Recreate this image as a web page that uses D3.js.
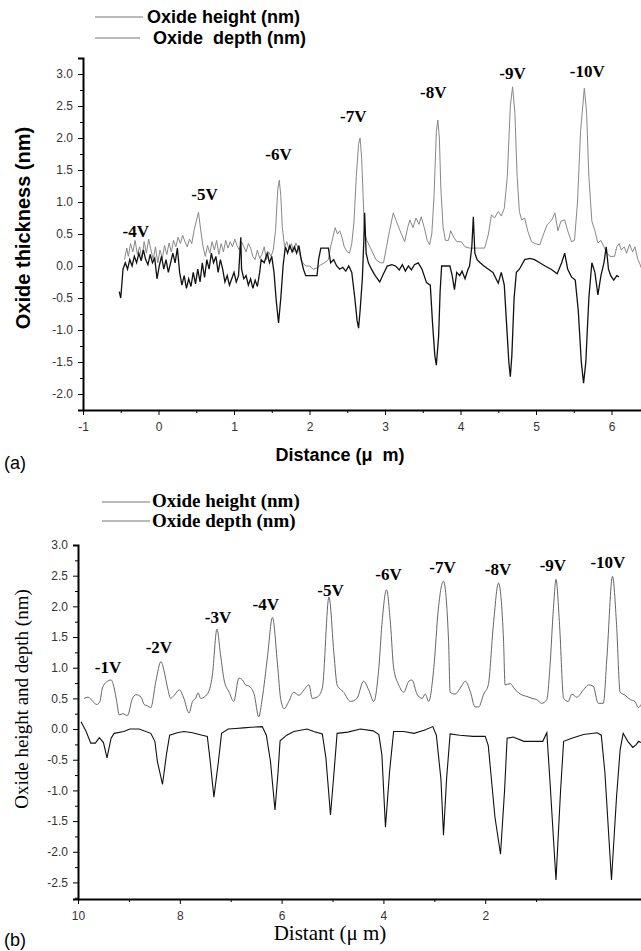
<!DOCTYPE html>
<html>
<head>
<meta charset="utf-8">
<script src="https://cdn.jsdelivr.net/npm/d3@7"></script>
<style>
body { margin: 0; background: #fff; }
svg { display: block; }
</style>
</head>
<body>
<div id="chart"></div>
<script>
// ---- panel (a): oxide thickness vs distance ----
let a_height = [[-0.45,0.10],[-0.42,0.28],[-0.40,0.15],[-0.37,0.35],[-0.34,0.22],[-0.31,0.40],[-0.28,0.18],[-0.25,0.30],[-0.22,0.12],[-0.19,0.38],[-0.16,0.20],[-0.13,0.42],[-0.10,0.25],[-0.07,0.10],[-0.04,0.30],[-0.01,0.05],[0.02,0.25],[0.05,0.12],[0.08,0.32],[0.11,0.18],[0.14,0.36],[0.17,0.22],[0.20,0.40],[0.23,0.30],[0.26,0.45],[0.29,0.35],[0.32,0.48],[0.35,0.38],[0.38,0.30],[0.41,0.42],[0.44,0.35],[0.47,0.55],[0.50,0.70],[0.53,0.84],[0.56,0.55],[0.59,0.30],[0.62,0.15],[0.65,0.32],[0.68,0.20],[0.71,0.38],[0.74,0.25],[0.77,0.40],[0.80,0.18],[0.83,0.35],[0.86,0.22],[0.89,0.40],[0.92,0.28],[0.95,0.38],[0.98,0.30],[1.01,0.42],[1.04,0.32],[1.07,0.25],[1.10,0.38],[1.13,0.30],[1.16,0.22],[1.19,0.35],[1.22,0.28],[1.25,0.15],[1.28,0.10],[1.31,0.25],[1.34,0.12],[1.37,0.18],[1.40,0.30],[1.43,0.10],[1.46,0.22],[1.49,0.15],[1.52,0.25],[1.55,0.55],[1.58,1.20],[1.60,1.34],[1.62,1.10],[1.64,0.60],[1.67,0.30],[1.70,0.38],[1.73,0.25],[1.76,0.35],[1.79,0.22],[1.82,0.36],[1.85,0.28],[1.88,0.15],[1.91,0.05],[1.95,0.00],[2.00,0.00],[2.05,-0.05],[2.10,-0.03],[2.15,0.02],[2.20,0.05],[2.25,0.10],[2.28,0.30],[2.31,0.45],[2.34,0.60],[2.37,0.50],[2.40,0.55],[2.43,0.45],[2.46,0.30],[2.50,0.22],[2.53,0.20],[2.56,0.35],[2.59,0.70],[2.62,1.40],[2.65,1.90],[2.67,2.00],[2.69,1.70],[2.71,1.10],[2.73,0.50],[2.76,0.40],[2.80,0.30],[2.84,0.20],[2.88,0.10],[2.94,0.05],[2.98,0.05],[3.02,0.30],[3.06,0.55],[3.11,0.83],[3.15,0.70],[3.20,0.55],[3.26,0.38],[3.30,0.60],[3.33,0.72],[3.37,0.60],[3.41,0.75],[3.45,0.65],[3.48,0.77],[3.52,0.60],[3.56,0.40],[3.59,0.33],[3.62,0.50],[3.65,1.10],[3.68,2.10],[3.70,2.28],[3.72,2.00],[3.74,1.20],[3.77,0.60],[3.80,0.40],[3.84,0.40],[3.87,0.55],[3.91,0.45],[3.95,0.38],[4.01,0.38],[4.06,0.30],[4.12,0.28],[4.18,0.28],[4.25,0.28],[4.32,0.28],[4.37,0.50],[4.41,0.80],[4.45,0.75],[4.50,0.85],[4.54,0.78],[4.58,0.90],[4.62,1.40],[4.66,2.50],[4.69,2.80],[4.72,2.40],[4.75,1.40],[4.78,0.85],[4.81,0.72],[4.85,0.75],[4.89,0.55],[4.94,0.38],[4.99,0.35],[5.05,0.33],[5.10,0.50],[5.15,0.65],[5.21,0.72],[5.25,0.83],[5.29,0.55],[5.33,0.70],[5.38,0.72],[5.42,0.55],[5.47,0.38],[5.51,0.40],[5.55,1.00],[5.59,2.10],[5.64,2.78],[5.67,2.40],[5.70,1.40],[5.74,0.70],[5.78,0.55],[5.82,0.36],[5.86,0.40],[5.90,0.30],[5.94,0.20],[5.98,0.15],[6.04,0.15],[6.07,0.30],[6.10,0.35],[6.13,0.25],[6.17,0.30],[6.20,0.20],[6.24,0.34],[6.28,0.22],[6.31,0.30],[6.35,0.10],[6.38,0.02],[6.40,-0.05]];

let a_depth = [[-0.52,-0.40],[-0.50,-0.50],[-0.47,-0.05],[-0.44,0.05],[-0.41,-0.05],[-0.38,0.10],[-0.35,0.00],[-0.32,0.15],[-0.29,0.05],[-0.26,0.20],[-0.23,0.08],[-0.20,0.25],[-0.17,0.10],[-0.14,0.02],[-0.11,0.18],[-0.08,0.05],[-0.05,0.12],[-0.02,-0.20],[0.01,0.00],[0.04,0.15],[0.07,-0.05],[0.10,0.10],[0.13,-0.10],[0.16,0.05],[0.19,0.20],[0.22,0.05],[0.25,0.28],[0.28,-0.10],[0.31,-0.30],[0.34,-0.15],[0.37,-0.35],[0.40,-0.20],[0.43,-0.32],[0.46,-0.10],[0.49,-0.28],[0.52,-0.05],[0.55,-0.25],[0.58,0.05],[0.61,-0.18],[0.64,0.10],[0.67,-0.05],[0.70,0.20],[0.73,0.05],[0.76,0.15],[0.79,-0.10],[0.82,0.10],[0.85,-0.05],[0.88,-0.25],[0.91,-0.15],[0.94,-0.30],[0.97,-0.20],[1.00,-0.10],[1.03,-0.25],[1.06,-0.15],[1.09,0.45],[1.10,-0.05],[1.13,-0.20],[1.16,-0.15],[1.19,-0.30],[1.22,-0.20],[1.25,-0.35],[1.28,-0.22],[1.31,-0.32],[1.34,-0.10],[1.36,0.10],[1.40,0.05],[1.44,0.20],[1.47,0.05],[1.50,0.15],[1.53,-0.10],[1.56,-0.55],[1.59,-0.89],[1.62,-0.50],[1.65,0.00],[1.68,0.30],[1.71,0.20],[1.74,0.32],[1.77,0.22],[1.80,0.30],[1.83,0.20],[1.86,0.32],[1.89,0.10],[1.92,-0.05],[1.95,-0.15],[2.10,-0.15],[2.12,0.10],[2.15,0.28],[2.25,0.28],[2.28,0.05],[2.32,0.10],[2.36,0.00],[2.40,-0.05],[2.44,-0.02],[2.48,-0.08],[2.52,0.00],[2.56,-0.10],[2.60,-0.50],[2.63,-0.85],[2.65,-0.97],[2.67,-0.70],[2.70,-0.20],[2.72,0.40],[2.73,0.83],[2.75,0.20],[2.78,0.05],[2.82,-0.05],[2.87,-0.15],[2.93,-0.25],[2.98,-0.12],[3.03,0.00],[3.09,0.02],[3.14,0.00],[3.19,-0.06],[3.23,0.02],[3.27,-0.08],[3.31,0.00],[3.35,-0.06],[3.39,0.02],[3.44,0.05],[3.49,-0.05],[3.55,-0.26],[3.60,-0.30],[3.63,-0.90],[3.66,-1.40],[3.68,-1.55],[3.71,-1.10],[3.73,-0.40],[3.75,0.00],[3.80,0.00],[3.86,0.00],[3.89,-0.15],[3.92,-0.37],[3.95,-0.10],[3.99,-0.15],[4.02,-0.08],[4.06,-0.20],[4.10,-0.05],[4.12,0.00],[4.15,0.30],[4.17,0.77],[4.19,0.20],[4.22,0.10],[4.26,0.05],[4.31,0.00],[4.37,-0.05],[4.43,-0.10],[4.50,-0.27],[4.54,-0.10],[4.58,-0.30],[4.61,-0.90],[4.64,-1.50],[4.66,-1.73],[4.68,-1.40],[4.71,-0.50],[4.74,-0.10],[4.78,-0.05],[4.85,0.10],[4.92,0.12],[4.98,0.10],[5.05,0.05],[5.12,0.00],[5.20,-0.05],[5.28,-0.12],[5.34,0.05],[5.38,0.20],[5.42,-0.05],[5.47,-0.17],[5.52,-0.22],[5.56,-0.70],[5.60,-1.50],[5.63,-1.83],[5.66,-1.50],[5.70,-0.50],[5.74,0.05],[5.78,-0.10],[5.82,-0.45],[5.86,-0.15],[5.90,0.05],[5.93,0.30],[5.96,-0.05],[5.99,-0.15],[6.03,-0.22],[6.07,-0.15],[6.10,-0.17]];

let a_volts = ["-4V","-5V","-6V","-7V","-8V","-9V","-10V"];
let a_volt_x = [-0.30, 0.61, 1.59, 2.58, 3.64, 4.69, 5.68];
let a_volt_y = [0.45, 1.03, 1.66, 2.25, 2.63, 2.92, 2.95];

let a_x_ticks = [-1, 0, 1, 2, 3, 4, 5, 6];
let a_x_minor = [-0.5, 0.5, 1.5, 2.5, 3.5, 4.5, 5.5];
let a_y_ticks = [-2.0, -1.5, -1.0, -0.5, 0.0, 0.5, 1.0, 1.5, 2.0, 2.5, 3.0];
let a_y_minor = [-2.25, -1.75, -1.25, -0.75, -0.25, 0.25, 0.75, 1.25, 1.75, 2.25, 2.75];

// ---- panel (b): oxide height and depth vs distant ----
let b_height = [[9.88,0.50],[9.80,0.52],[9.71,0.45],[9.63,0.40],[9.57,0.45],[9.52,0.67],[9.42,0.78],[9.35,0.80],[9.29,0.67],[9.24,0.45],[9.19,0.23],[9.12,0.25],[9.03,0.22],[8.93,0.50],[8.86,0.56],[8.76,0.52],[8.70,0.40],[8.64,0.38],[8.57,0.35],[8.47,0.78],[8.37,1.10],[8.31,0.95],[8.24,0.67],[8.18,0.50],[8.11,0.55],[8.01,0.64],[7.92,0.50],[7.82,0.26],[7.75,0.45],[7.69,0.50],[7.64,0.59],[7.59,0.50],[7.46,0.57],[7.36,0.88],[7.27,1.63],[7.20,1.21],[7.13,0.80],[7.03,0.60],[6.94,0.45],[6.84,0.83],[6.77,0.80],[6.71,0.72],[6.64,0.70],[6.54,0.57],[6.45,0.20],[6.38,0.50],[6.28,1.16],[6.18,1.82],[6.08,1.05],[6.02,0.50],[5.95,0.33],[5.86,0.45],[5.76,0.60],[5.66,0.55],[5.56,0.64],[5.46,0.72],[5.40,0.50],[5.30,0.52],[5.20,0.67],[5.07,2.15],[4.97,1.21],[4.91,0.72],[4.78,0.60],[4.65,0.45],[4.52,0.50],[4.39,0.78],[4.29,0.64],[4.19,0.45],[4.09,1.00],[4.03,1.70],[3.94,2.27],[3.86,1.70],[3.80,1.00],[3.70,0.72],[3.60,0.60],[3.50,0.78],[3.44,0.80],[3.34,0.57],[3.24,0.50],[3.18,0.57],[3.11,0.45],[3.01,1.00],[2.92,1.97],[2.82,2.41],[2.72,1.43],[2.69,0.60],[2.59,0.57],[2.49,0.67],[2.39,0.78],[2.29,0.60],[2.20,0.36],[2.13,0.36],[2.03,0.57],[1.94,0.72],[1.84,1.70],[1.74,2.38],[1.64,1.43],[1.61,0.72],[1.51,0.74],[1.41,0.64],[1.31,0.57],[1.18,0.53],[1.08,0.50],[0.99,0.48],[0.89,0.42],[0.79,0.48],[0.73,1.00],[0.66,1.97],[0.61,2.44],[0.54,1.70],[0.46,0.50],[0.37,0.45],[0.30,0.57],[0.20,0.52],[0.07,0.64],[-0.03,0.72],[-0.12,0.70],[-0.22,0.42],[-0.32,0.42],[-0.39,1.16],[-0.50,2.49],[-0.58,1.70],[-0.65,0.60],[-0.75,0.55],[-0.85,0.48],[-0.94,0.45],[-1.01,0.35],[-1.06,0.40]];

let b_depth = [[9.94,0.12],[9.84,-0.04],[9.75,-0.23],[9.66,-0.23],[9.58,-0.14],[9.50,-0.22],[9.43,-0.47],[9.35,-0.15],[9.29,-0.07],[9.10,-0.04],[8.98,0.00],[8.80,0.00],[8.57,-0.07],[8.49,-0.20],[8.44,-0.53],[8.34,-0.90],[8.26,-0.40],[8.20,-0.10],[8.05,-0.06],[7.92,-0.04],[7.75,-0.06],[7.56,-0.10],[7.46,-0.12],[7.41,-0.47],[7.33,-1.11],[7.24,-0.52],[7.18,-0.07],[7.05,0.00],[6.90,0.01],[6.75,0.02],[6.60,0.03],[6.38,0.04],[6.30,-0.10],[6.22,-0.52],[6.13,-1.32],[6.07,-0.70],[6.03,-0.19],[5.90,-0.10],[5.76,-0.04],[5.50,0.00],[5.37,-0.04],[5.20,-0.08],[5.13,-0.47],[5.04,-1.40],[4.97,-0.70],[4.91,-0.07],[4.70,-0.05],[4.45,0.00],[4.20,-0.03],[4.09,-0.09],[4.03,-0.42],[3.96,-1.60],[3.88,-0.70],[3.80,-0.04],[3.60,-0.04],[3.40,-0.07],[3.20,-0.02],[3.03,0.04],[2.96,-0.10],[2.87,-0.82],[2.82,-1.73],[2.76,-0.82],[2.69,-0.08],[2.50,-0.10],[2.24,-0.12],[2.00,-0.12],[1.94,-0.27],[1.81,-1.43],[1.70,-2.04],[1.62,-1.00],[1.57,-0.15],[1.45,-0.13],[1.24,-0.20],[1.00,-0.20],[0.87,-0.20],[0.79,-0.06],[0.73,-0.83],[0.61,-2.46],[0.52,-1.00],[0.46,-0.20],[0.30,-0.15],[0.07,-0.09],[-0.20,-0.06],[-0.28,-0.10],[-0.35,-0.70],[-0.48,-2.46],[-0.58,-1.10],[-0.65,-0.34],[-0.71,-0.07],[-0.80,-0.20],[-0.90,-0.30],[-0.97,-0.25],[-1.01,-0.20],[-1.06,-0.22]];

let b_volts = ["-1V","-2V","-3V","-4V","-5V","-6V","-7V","-8V","-9V","-10V"];
let b_volt_x = [9.41, 8.41, 7.25, 6.31, 5.04, 3.90, 2.84, 1.75, 0.67, -0.41];
let b_volt_y = [0.91, 1.24, 1.73, 1.94, 2.17, 2.43, 2.54, 2.51, 2.57, 2.62];

let b_x_ticks = [10, 8, 6, 4, 2];
let b_x_minor = [9, 7, 5, 3, 1];
let b_y_ticks = [-2.5, -2.0, -1.5, -1.0, -0.5, 0.0, 0.5, 1.0, 1.5, 2.0, 2.5, 3.0];
let b_y_minor = [-2.75, -2.25, -1.75, -1.25, -0.75, -0.25, 0.25, 0.75, 1.25, 1.75, 2.25, 2.75];

let sans = "'Liberation Sans', Arial, sans-serif";
let serif = "'Liberation Serif', 'Times New Roman', serif";

let svg = d3.select("#chart").append("svg").attr("width", 641).attr("height", 951);

// scales
let xa = d3.scaleLinear().domain([-1, 6.4]).range([83, 641.7]);
let ya = d3.scaleLinear().domain([-2.25, 3.25]).range([410, 58]);
let xb = d3.scaleLinear().domain([10, -1.06]).range([78, 641]);
let yb = d3.scaleLinear().domain([-2.77, 3.0]).range([899, 545]);

function fmt1(d) { return d.toFixed(1); }

function draw_axes(xs, ys, x_ticks, x_minor, y_ticks, y_minor, x_fmt, font) {
    let x0 = xs.range()[0], y0 = ys.range()[0];

    let gx = svg.append("g").attr("transform", "translate(0," + y0 + ")")
        .call(d3.axisBottom(xs).tickValues(x_ticks).tickFormat(x_fmt).tickSize(5).tickSizeOuter(0).tickPadding(7));
    svg.append("g").attr("transform", "translate(0," + y0 + ")")
        .call(d3.axisBottom(xs).tickValues(x_minor).tickFormat("").tickSize(3).tickSizeOuter(0))
        .select(".domain").remove();

    let gy = svg.append("g").attr("transform", "translate(" + x0 + ",0)")
        .call(d3.axisLeft(ys).tickValues(y_ticks).tickFormat(fmt1).tickSize(5).tickSizeOuter(5).tickPadding(5));
    svg.append("g").attr("transform", "translate(" + x0 + ",0)")
        .call(d3.axisLeft(ys).tickValues(y_minor).tickFormat("").tickSize(3).tickSizeOuter(0))
        .select(".domain").remove();

    for (const g of [gx, gy]) {
        g.select(".domain").attr("stroke", "#000").attr("stroke-width", 2);
        g.selectAll("text").attr("font-family", font).attr("font-size", 12).attr("fill", "#333");
    }
}

draw_axes(xa, ya, a_x_ticks, a_x_minor, a_y_ticks, a_y_minor, d => String(d), sans);
draw_axes(xb, yb, b_x_ticks, b_x_minor, b_y_ticks, b_y_minor, d => String(d), sans);

// traces
let line_a = d3.line().x(d => xa(d[0])).y(d => ya(d[1]));
let line_b = d3.line().x(d => xb(d[0])).y(d => yb(d[1]));

svg.append("path").datum(a_height).attr("fill", "none").attr("stroke", "#888").attr("stroke-width", 1).attr("d", line_a);
svg.append("path").datum(a_depth).attr("fill", "none").attr("stroke", "#111").attr("stroke-width", 1.3).attr("d", line_a);
svg.append("path").datum(b_height).attr("fill", "none").attr("stroke", "#666").attr("stroke-width", 1).attr("d", d3.line().x(d => xb(d[0])).y(d => yb(d[1])).curve(d3.curveMonotoneX));
svg.append("path").datum(b_depth).attr("fill", "none").attr("stroke", "#111").attr("stroke-width", 1.1).attr("d", line_b);

// voltage labels
svg.selectAll(".va").data(a_volts).enter().append("text")
    .attr("x", (d, i) => xa(a_volt_x[i])).attr("y", (d, i) => ya(a_volt_y[i]))
    .attr("text-anchor", "middle").attr("font-family", serif).attr("font-weight", "bold").attr("font-size", 17)
    .text(d => d);
svg.selectAll(".vb").data(b_volts).enter().append("text")
    .attr("x", (d, i) => xb(b_volt_x[i])).attr("y", (d, i) => yb(b_volt_y[i]))
    .attr("text-anchor", "middle").attr("font-family", serif).attr("font-weight", "bold").attr("font-size", 17)
    .text(d => d);

// legends
svg.append("line").attr("x1", 95).attr("x2", 143).attr("y1", 17).attr("y2", 17).attr("stroke", "#777");
svg.append("line").attr("x1", 95).attr("x2", 140).attr("y1", 38).attr("y2", 38).attr("stroke", "#777");
svg.append("text").attr("x", 147).attr("y", 23).attr("font-family", sans).attr("font-weight", "bold").attr("font-size", 18).text("Oxide height (nm)");
svg.append("text").attr("x", 153).attr("y", 44).attr("font-family", sans).attr("font-weight", "bold").attr("font-size", 18)
    .style("white-space", "pre").text("Oxide  depth (nm)");

svg.append("line").attr("x1", 102).attr("x2", 150).attr("y1", 502).attr("y2", 502).attr("stroke", "#777");
svg.append("line").attr("x1", 102).attr("x2", 150).attr("y1", 521).attr("y2", 521).attr("stroke", "#777");
svg.append("text").attr("x", 152).attr("y", 507).attr("font-family", serif).attr("font-weight", "bold").attr("font-size", 19).text("Oxide height (nm)");
svg.append("text").attr("x", 152).attr("y", 527).attr("font-family", serif).attr("font-weight", "bold").attr("font-size", 19).text("Oxide depth (nm)");

// axis titles
svg.append("text").attr("transform", "translate(30,228) rotate(-90)").attr("text-anchor", "middle")
    .attr("font-family", sans).attr("font-weight", "bold").attr("font-size", 20).text("Oxide thickness (nm)");
svg.append("text").attr("x", 340).attr("y", 461).attr("text-anchor", "middle")
    .attr("font-family", sans).attr("font-weight", "bold").attr("font-size", 18).text("Distance (\u03bc  m)").style("white-space", "pre");
svg.append("text").attr("transform", "translate(28,699) rotate(-90)").attr("text-anchor", "middle")
    .attr("font-family", serif).attr("font-size", 19).text("Oxide height and depth (nm)");
svg.append("text").attr("x", 330).attr("y", 940).attr("text-anchor", "middle")
    .attr("font-family", serif).attr("font-size", 21).text("Distant (\u03bc m)");

// panel tags
svg.append("text").attr("x", 4).attr("y", 469).attr("font-family", sans).attr("font-size", 18).text("(a)");
svg.append("text").attr("x", 4).attr("y", 946).attr("font-family", sans).attr("font-size", 18).text("(b)");
</script>
</body>
</html>
